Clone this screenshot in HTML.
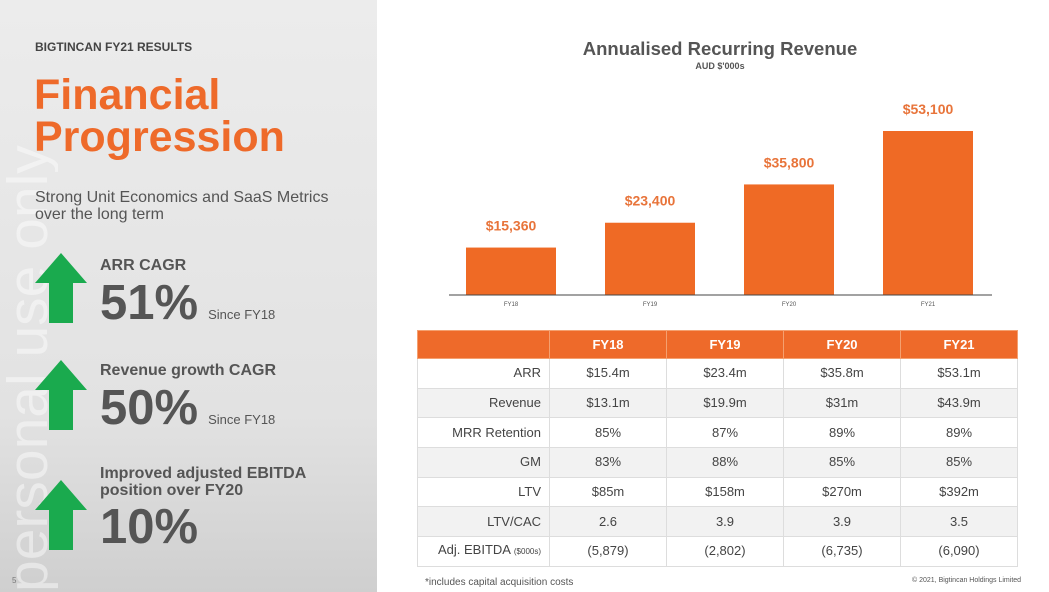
<!DOCTYPE html>
<html><head><meta charset="utf-8"><style>
html,body{margin:0;width:1049px;height:592px;overflow:hidden;}
body{position:relative;background:#fff;font-family:"Liberation Sans",sans-serif;}
#left{position:absolute;left:0;top:0;width:377px;height:592px;background:linear-gradient(#ececec,#e2e2e2 70%,#cfcfcf);overflow:hidden;}
.abs{position:absolute;}
.arrow{position:absolute;width:52px;height:70px;}
table{position:absolute;left:417px;top:330px;width:600px;border-collapse:collapse;font-size:13px;color:#444;table-layout:fixed;}
td,th{border:1px solid #ddd;height:29.7px;padding:0;text-align:center;box-sizing:border-box;line-height:14px;}
th{background:#ee6a2a;color:#fff;font-weight:bold;border-color:#f4a070;height:28px;}
td.l{text-align:right;padding-right:8px;}
tr:nth-child(odd) td{background:#f2f2f2;}
</style></head><body>
<div id="left">
<div class="abs" style="left:0;top:0;width:60px;height:592px;overflow:hidden;">
<div class="abs" style="left:-2px;top:132px;height:460px;overflow:hidden;writing-mode:vertical-rl;transform:rotate(180deg);font-size:57px;line-height:60px;color:rgba(255,255,255,0.45);white-space:nowrap;">personal use only</div>
</div>
<div class="abs" style="left:35px;top:40px;font-size:12px;font-weight:bold;color:#444;">BIGTINCAN FY21 RESULTS</div>
<div class="abs" style="left:34px;top:74px;font-size:43px;line-height:42px;font-weight:bold;color:#ee6a2a;">Financial<br>Progression</div>
<div class="abs" style="left:35px;top:189px;font-size:16px;line-height:17px;color:#555;">Strong Unit Economics and SaaS Metrics<br>over the long term</div>
<svg class="arrow" style="left:35px;top:253px" viewBox="0 0 52 70"><polygon points="26,0 52,30 38,30 38,70 14,70 14,30 0,30" fill="#1aaa4e"/></svg>
<div class="abs" style="left:100px;top:257px;font-size:16px;font-weight:bold;color:#555;">ARR CAGR</div>
<div class="abs" style="left:100px;top:275px;font-size:49px;font-weight:bold;color:#555;">51%<span style="font-size:13px;font-weight:normal;margin-left:10px">Since FY18</span></div>
<svg class="arrow" style="left:35px;top:360px" viewBox="0 0 52 70"><polygon points="26,0 52,30 38,30 38,70 14,70 14,30 0,30" fill="#1aaa4e"/></svg>
<div class="abs" style="left:100px;top:362px;font-size:16px;font-weight:bold;color:#555;">Revenue growth CAGR</div>
<div class="abs" style="left:100px;top:380px;font-size:49px;font-weight:bold;color:#555;">50%<span style="font-size:13px;font-weight:normal;margin-left:10px">Since FY18</span></div>
<svg class="arrow" style="left:35px;top:480px" viewBox="0 0 52 70"><polygon points="26,0 52,30 38,30 38,70 14,70 14,30 0,30" fill="#1aaa4e"/></svg>
<div class="abs" style="left:100px;top:465px;font-size:16px;line-height:17px;font-weight:bold;color:#555;">Improved adjusted EBITDA<br>position over FY20</div>
<div class="abs" style="left:100px;top:499px;font-size:49px;font-weight:bold;color:#555;">10%</div>
<div class="abs" style="left:12px;top:576px;font-size:8px;color:#777;">5</div>
</div>
<div class="abs" style="left:440px;top:38px;width:560px;text-align:center;font-size:18.5px;font-weight:bold;color:#555;">Annualised Recurring Revenue</div>
<div class="abs" style="left:440px;top:61px;width:560px;text-align:center;font-size:9px;font-weight:bold;color:#555;">AUD $'000s</div>
<svg id="chart" class="abs" style="left:0;top:0" width="1049" height="320"></svg>
<script>
const categories=["FY18","FY19","FY20","FY21"];
const values=[15360,23400,35800,53100];
const valueLabels=["$15,360","$23,400","$35,800","$53,100"];
const svg=document.getElementById('chart');const NS="http://www.w3.org/2000/svg";
const x0=441.5,x1=997.5,base=295,scale=164/53100,bw=90;
const band=(x1-x0)/categories.length;
function xc(i){return x0+band*(i+0.5);}
function y(v){return base-v*scale;}
categories.forEach((c,i)=>{
 const r=document.createElementNS(NS,'rect');
 
 
 r.setAttribute('x',xc(i)-bw/2);r.setAttribute('y',y(values[i]));r.setAttribute('width',bw);r.setAttribute('height',base-y(values[i]));r.setAttribute('fill','#ef6a25');svg.appendChild(r);
 const t=document.createElementNS(NS,'text');
 
 
 t.setAttribute('x',xc(i));t.setAttribute('y',y(values[i])-17);t.setAttribute('text-anchor','middle');t.setAttribute('font-size','14');t.setAttribute('font-weight','bold');t.setAttribute('fill','#e8743a');t.textContent=valueLabels[i];svg.appendChild(t);
 const l=document.createElementNS(NS,'text');
 
 
 l.setAttribute('x',xc(i));l.setAttribute('y',base+11);l.setAttribute('text-anchor','middle');l.setAttribute('font-size','6');l.setAttribute('fill','#555');l.textContent=c;svg.appendChild(l);
});
const ax=document.createElementNS(NS,'line');


ax.setAttribute('x1',449);ax.setAttribute('x2',992);ax.setAttribute('y1',base);ax.setAttribute('y2',base);ax.setAttribute('stroke','#444');ax.setAttribute('stroke-width','1');svg.appendChild(ax);
</script>
<table>
<colgroup><col style="width:132px"><col style="width:117px"><col style="width:117px"><col style="width:117px"><col style="width:117px"></colgroup>
<tr><th></th><th>FY18</th><th>FY19</th><th>FY20</th><th>FY21</th></tr>
<tr><td class="l">ARR</td><td>$15.4m</td><td>$23.4m</td><td>$35.8m</td><td>$53.1m</td></tr>
<tr><td class="l">Revenue</td><td>$13.1m</td><td>$19.9m</td><td>$31m</td><td>$43.9m</td></tr>
<tr><td class="l">MRR Retention</td><td>85%</td><td>87%</td><td>89%</td><td>89%</td></tr>
<tr><td class="l">GM</td><td>83%</td><td>88%</td><td>85%</td><td>85%</td></tr>
<tr><td class="l">LTV</td><td>$85m</td><td>$158m</td><td>$270m</td><td>$392m</td></tr>
<tr><td class="l">LTV/CAC</td><td>2.6</td><td>3.9</td><td>3.9</td><td>3.5</td></tr>
<tr><td class="l">Adj. EBITDA <span style="font-size:8px">($000s)</span></td><td>(5,879)</td><td>(2,802)</td><td>(6,735)</td><td>(6,090)</td></tr>
</table>
<div class="abs" style="left:425px;top:577px;font-size:10px;color:#555;">*includes capital acquisition costs</div>
<div class="abs" style="left:912px;top:577px;font-size:7px;color:#555;">© 2021, Bigtincan Holdings Limited</div>
</body></html>
